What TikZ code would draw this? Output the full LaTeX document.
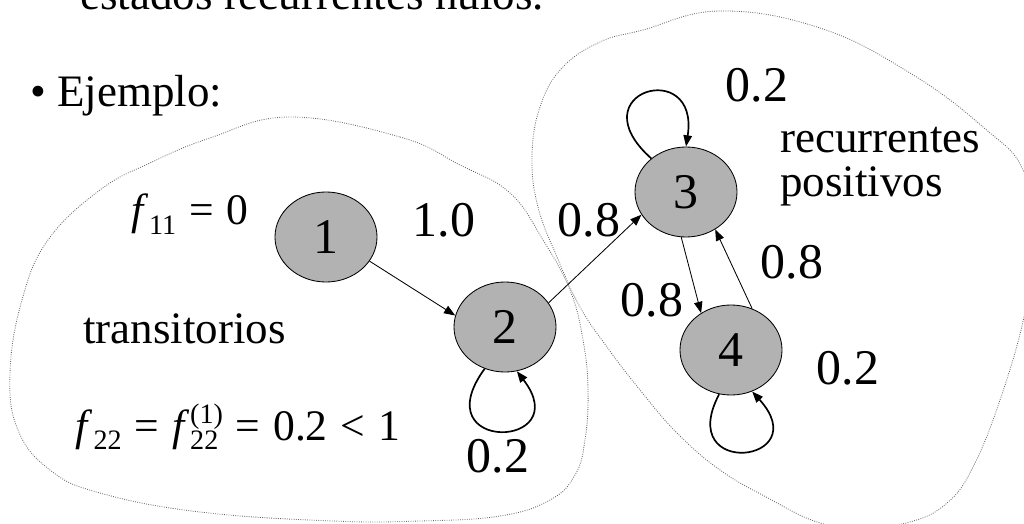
\documentclass[tikz,border=0pt]{standalone}
\usepackage{fontspec}
\setmainfont{Liberation Serif}
\usetikzlibrary{arrows.meta,shapes.geometric}
\newcommand{\txtfont}{\fontsize{32}{38}\selectfont}
\newcommand{\numfont}{\fontsize{35.5}{40}\selectfont}
\newcommand{\frmfont}{\fontsize{31}{34}\selectfont}
\newcommand{\idxfont}{\fontsize{20}{20}\selectfont}
\newcommand{\fidx}[1]{\textit{f}\kern.5pt\raisebox{-7pt}{\idxfont #1}}
\newcommand{\fidxsup}[2]{\textit{f}\kern.5pt\rlap{\raisebox{12pt}{\idxfont #2}}\raisebox{-7pt}{\idxfont #1}\kern3pt}
\newcommand{\relsp}[1]{\hspace{.3em}#1\hspace{.3em}}
\tikzset{
  estado/.style={ellipse,draw,line width=.6pt,fill=black!30,minimum width=2.55cm,minimum height=2.25cm,inner sep=0pt,font=\numfont},
  flecha/.style={line width=.6pt,-{Triangle[length=8pt,width=6pt]}},
  lazo/.style={line width=1.2pt,-{Triangle[length=8pt,width=6pt]}},
  prob/.style={inner sep=0pt,font=\numfont},
  texto/.style={inner sep=0pt,font=\txtfont,anchor=base west},
  frm/.style={inner sep=0pt,font=\frmfont,anchor=base},
  clase/.style={densely dotted,black!60,line width=.6pt}
}
\begin{document}
\begin{tikzpicture}[x=.025cm,y=-.025cm]
\useasboundingbox(0,0)rectangle(1024,524);
\clip(0,0)rectangle(1024,524);
% clases
\draw[clase] plot[smooth cycle,tension=.7] coordinates{(290,117)(400,137)(460,165)(510,193)(543,240)(570,290)(583,340)(588,390)(585,440)(575,475)(550,500)(500,516)(420,521)(333,521)(200,512)(100,493)(50,470)(18,430)(10,373)(22,300)(48,240)(100,190)(150,163)(210,138)};
\draw[clase] plot[smooth cycle,tension=.7] coordinates{(720,11)(820,28)(910,73)(983,127)(1024,172)(1034,245)(1024,317)(1000,400)(973,467)(947,503)(910,522)(860,528)(817,522)(768,498)(720,470)(677,433)(640,390)(607,347)(580,307)(557,257)(538,207)(532,157)(540,107)(562,68)(600,42)(643,30)};
% textos
\node[texto](tit)at(80,10){estados recurrentes nulos.};
\node[texto](ej)at(30,107){\textbullet\ Ejemplo:};
\node[texto](tr)at(83,343){transitorios};
\node[texto](rec)at(780,153){recurrentes};
\node[texto](pos)at(780,197){positivos};
\node[frm](f11)at(190,225){\fidx{11}\relsp{=}0};
\node[frm](f22)at(238,440){\fidx{22}\relsp{=}\fidxsup{22}{(1)}\relsp{=}0.2\relsp{<}1};
% estados
\node[estado](n1)at(326,237){1};
\node[estado](n2)at(505,327){2};
\node[estado](n3)at(686,192){3};
\node[estado](n4)at(731,350){4};
% transiciones
\draw[flecha](n1.-29)--(n2.167);
\draw[flecha](n2.29)--(n3.207);
\draw[flecha](n3.-96)--(n4.129);
\draw[flecha](n4.63)--(n3.-52);
\draw[lazo](n2.-116) .. controls +(-62,85) and +(60,78) .. (n2.-75);
\draw[lazo](n3.136) .. controls +(-75,-67) and +(14,-90) .. (n3.90);
\draw[lazo](n4.-105) .. controls +(-45,85) and +(65,72) .. (n4.-63);
% probabilidades
\node[prob](p12)at(444,220){1.0};
\node[prob](p23)at(589,220){0.8};
\node[prob](p33)at(757,85){0.2};
\node[prob](p34)at(652,300){0.8};
\node[prob](p43)at(792,262){0.8};
\node[prob](p44)at(848,368){0.2};
\node[prob](p22)at(498,456){0.2};
\end{tikzpicture}
\end{document}
